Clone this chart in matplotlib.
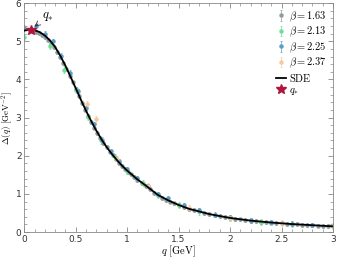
import matplotlib
matplotlib.use('Agg')
import matplotlib.pyplot as plt
from matplotlib.ticker import MultipleLocator

plt.rcParams['mathtext.fontset'] = 'cm'
plt.rcParams['font.family'] = 'DejaVu Sans'

# SDE curve
q_sde = [0.0, 0.05, 0.1, 0.15, 0.2, 0.25, 0.3, 0.35, 0.4, 0.45, 0.5, 0.55, 0.6, 0.65,
         0.7, 0.75, 0.8, 0.85, 0.9, 0.95, 1.0, 1.1, 1.2, 1.3, 1.4, 1.5, 1.6, 1.7, 1.8,
         1.9, 2.0, 2.2, 2.4, 2.6, 2.8, 3.0]
d_sde = [5.28, 5.30, 5.29, 5.24, 5.15, 5.02, 4.85, 4.62, 4.36, 4.07, 3.77, 3.47, 3.18, 2.91,
         2.66, 2.43, 2.23, 2.05, 1.89, 1.74, 1.61, 1.38, 1.18, 0.97, 0.83, 0.71, 0.61, 0.54, 0.47,
         0.42, 0.37, 0.30, 0.25, 0.21, 0.18, 0.15]

# lattice, beta = 1.63
q_163 = [0.08, 0.11, 0.14, 0.17, 0.2, 0.23, 0.26, 0.29, 0.32, 0.35, 0.38, 0.41, 0.44, 0.47,
         0.5, 0.53, 0.56, 0.59, 0.62, 0.65, 0.68, 0.71, 0.74, 0.77, 0.8, 0.83, 0.86, 0.89,
         0.92, 0.95, 0.98, 1.01, 1.04, 1.07, 1.1, 1.14, 1.18, 1.22, 1.26, 1.3, 1.34, 1.38,
         1.42, 1.46, 1.5, 1.55, 1.6, 1.65, 1.7, 1.75, 1.8, 1.85, 1.9, 1.95, 2.0, 2.05, 2.1,
         2.15, 2.2, 2.25, 2.3, 2.35, 2.4, 2.45, 2.5, 2.55, 2.6, 2.65, 2.7, 2.75, 2.8, 2.85,
         2.9, 2.95, 3.0]
d_163 = [5.26, 5.25, 5.22, 5.16, 5.10, 5.03, 4.94, 4.84, 4.72, 4.58, 4.43, 4.27, 4.10, 3.92,
         3.74, 3.56, 3.38, 3.21, 3.05, 2.89, 2.74, 2.60, 2.47, 2.34, 2.22, 2.11, 2.01, 1.91,
         1.82, 1.73, 1.65, 1.58, 1.51, 1.44, 1.37, 1.29, 1.21, 1.12, 1.03, 0.96, 0.90, 0.85,
         0.80, 0.75, 0.71, 0.66, 0.61, 0.57, 0.54, 0.50, 0.47, 0.445, 0.42, 0.395, 0.37, 0.35,
         0.33, 0.315, 0.30, 0.285, 0.27, 0.26, 0.25, 0.24, 0.23, 0.22, 0.21, 0.203, 0.195,
         0.188, 0.18, 0.172, 0.165, 0.158, 0.15]
e_163 = [0.05] * len(q_163)

# lattice, beta = 2.13
q_213 = [0.0, 0.25, 0.39, 0.5, 0.62, 0.75, 0.88, 1.0, 1.15, 1.3, 1.5, 1.7, 2.0, 2.3, 2.6, 3.0]
d_213 = [5.12, 4.88, 4.26, 3.72, 3.02, 2.40, 1.96, 1.60, 1.28, 0.96, 0.70, 0.54, 0.37, 0.27,
         0.21, 0.15]
e_213 = [0.08] * len(q_213)

# lattice, beta = 2.25
q_225 = [0.0, 0.11, 0.2, 0.28, 0.36, 0.44, 0.52, 0.6, 0.68, 0.76, 0.84, 0.92, 1.0, 1.1, 1.2,
         1.3, 1.4, 1.55, 1.7, 1.85, 2.0, 2.2, 2.4, 2.6, 2.8, 3.0]
d_225 = [5.36, 5.40, 5.20, 5.00, 4.62, 4.18, 3.70, 3.25, 2.82, 2.42, 2.12, 1.86, 1.64, 1.41,
         1.21, 1.00, 0.88, 0.70, 0.57, 0.46, 0.39, 0.31, 0.26, 0.22, 0.19, 0.16]
e_225 = [0.06] * len(q_225)

# lattice, beta = 2.37
q_237 = [0.61, 0.70, 0.9, 1.2, 1.6, 2.0, 2.5, 3.0]
d_237 = [3.36, 2.95, 1.92, 1.20, 0.62, 0.38, 0.23, 0.16]
e_237 = [0.08] * len(q_237)

q_star, d_star = 0.07, 5.30

fig = plt.figure(figsize=(3.37, 2.59), dpi=100)
ax = fig.add_axes([0.072, 0.104, 0.916, 0.884])

sets = [(q_163, d_163, e_163, '#8e9c9e', r'$\beta = 1.63$'),
        (q_213, d_213, e_213, '#72dd96', r'$\beta = 2.13$'),
        (q_225, d_225, e_225, '#5b9cc9', r'$\beta = 2.25$'),
        (q_237, d_237, e_237, '#f5c9a0', r'$\beta = 2.37$')]
handles = []
for q, d, e, c, lab in sets:
    h = ax.errorbar(q, d, yerr=e, fmt='o', ms=2.2, color=c, mec=c, elinewidth=0.5,
                    capsize=1.0, capthick=0.5, label=lab, zorder=2)
    handles.append(h)

h_sde, = ax.plot(q_sde, d_sde, color='black', lw=1.3, label=r'$\mathrm{SDE}$', zorder=3)
h_star, = ax.plot([q_star], [d_star], marker='*', color='#b0163c', ms=7, ls='none',
                  label=r'$q_{*}$', zorder=4)
handles += [h_sde, h_star]
ax.annotate(r'$q_{*}$', xy=(q_star + 0.02, d_star + 0.06), xytext=(0.17, 5.62),
            fontsize=9, arrowprops=dict(arrowstyle='->', lw=0.6, color='#333333',
                                        shrinkA=1, shrinkB=1))

ax.set_xlim(0, 3)
ax.set_ylim(0, 6)
ax.xaxis.set_minor_locator(MultipleLocator(0.1))
ax.yaxis.set_major_locator(MultipleLocator(1))
ax.yaxis.set_minor_locator(MultipleLocator(0.2))
ax.set_xticks([0, 0.5, 1, 1.5, 2, 2.5, 3])
ax.set_xticklabels(['0', '0.5', '1', '1.5', '2', '2.5', '3'])
ax.tick_params(which='both', direction='in', top=True, right=True, color='#888888',
               labelsize=6.5, labelcolor='#333333', pad=2)
ax.tick_params(which='major', length=3.5, width=0.6)
ax.tick_params(which='minor', length=2, width=0.5)
for s in ax.spines.values():
    s.set_color('#888888')
    s.set_linewidth(0.6)

ax.set_xlabel(r'$q\ [\mathrm{GeV}]$', fontsize=7.5, labelpad=0)
ax.set_ylabel(r'$\Delta(q)\ [\mathrm{GeV}^{-2}]$', fontsize=6.5, va='center')
ax.yaxis.set_label_coords(-0.056, 0.5)

ax.legend(handles=handles, loc='upper right', fontsize=7.5, frameon=False,
          handlelength=0.9, handletextpad=0.3, labelspacing=0.12, borderaxespad=0.2)

fig.savefig('out.png', dpi=100)
